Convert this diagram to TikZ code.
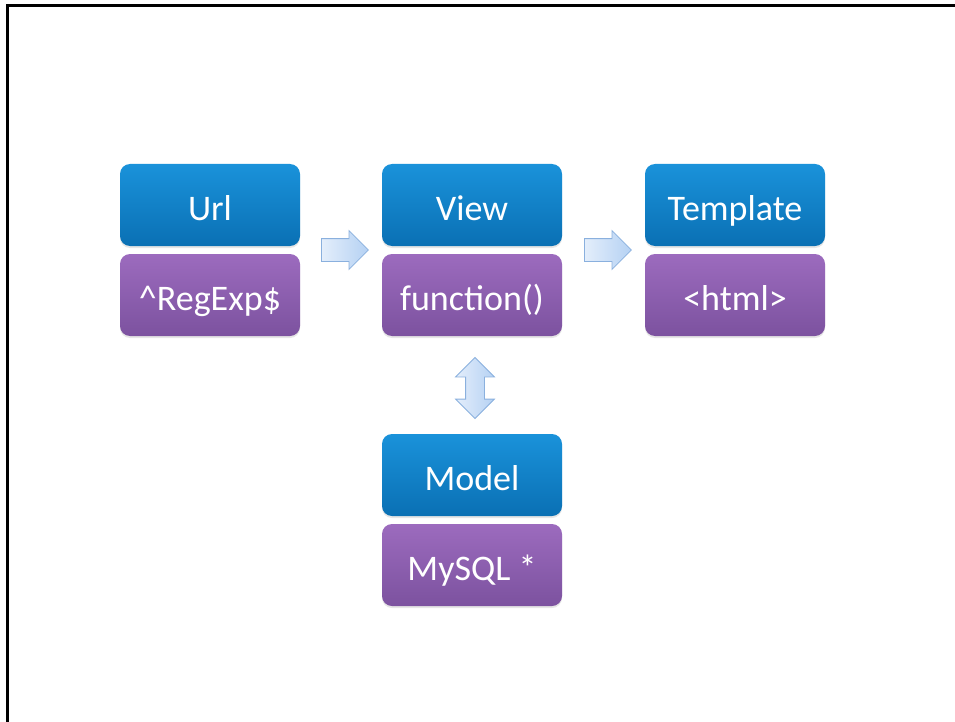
\documentclass[tikz,border=0pt]{standalone}
\usepackage{fontspec}
\setmainfont{Carlito}
\usetikzlibrary{shapes.arrows,shadows}
\definecolor{bluetop}{HTML}{1A92DA}
\definecolor{bluebot}{HTML}{0A70B4}
\definecolor{purptop}{HTML}{9C6BBE}
\definecolor{purpbot}{HTML}{7C529F}
\definecolor{arrfill}{HTML}{E4EEFB}
\definecolor{arrfillb}{HTML}{B5D1F3}
\definecolor{arrline}{HTML}{8AB0DE}
\begin{document}
\begin{tikzpicture}[x=1pt,y=-1pt]
    \tikzstyle{box}=[rounded corners=10pt, minimum width=180pt, minimum height=82pt,
      inner sep=0pt, text=white, font=\fontsize{36}{40}\selectfont,
      text height=34pt, text depth=4pt,
      drop shadow={shadow xshift=0pt, shadow yshift=-2pt, opacity=0.2}]
    \tikzstyle{upper}=[box, top color=bluetop, bottom color=bluebot]
    \tikzstyle{lower}=[box, top color=purptop, bottom color=purpbot]
    \tikzstyle{blockarrow}=[single arrow, draw=arrline, line width=0.8pt,
      left color=arrfill, right color=arrfillb, inner sep=11pt,
      single arrow head extend=8pt, minimum height=47pt, anchor=tail]
    \useasboundingbox (0,0) rectangle (955,722);
    \draw[line width=3pt] (7,722) -- (7,6) -- (955,6);
    % boxes
    \node[upper] (url) at (210,205) {Url};
    \node[lower] (regexp) at (210,295) {\^{}RegExp\$};
    \node[upper] (view) at (472,205) {View};
    \node[lower] (func) at (472,295) {function()};
    \node[upper] (tmpl) at (735,205) {Template};
    \node[lower] (html) at (735,295) {<html>};
    \node[upper] (model) at (472,475) {Model};
    \node[lower] (mysql) at (472,565) {MySQL *};
    % arrows
    \node[blockarrow] (a1) at (321,250) {};
    \node[blockarrow] (a2) at (584,250) {};
    \node[double arrow, draw=arrline, line width=0.8pt, left color=arrfill,
      right color=arrfillb, inner sep=9pt, double arrow head extend=10pt,
      minimum height=61pt, rotate=90] (a3) at (475,388) {};
\end{tikzpicture}
\end{document}
